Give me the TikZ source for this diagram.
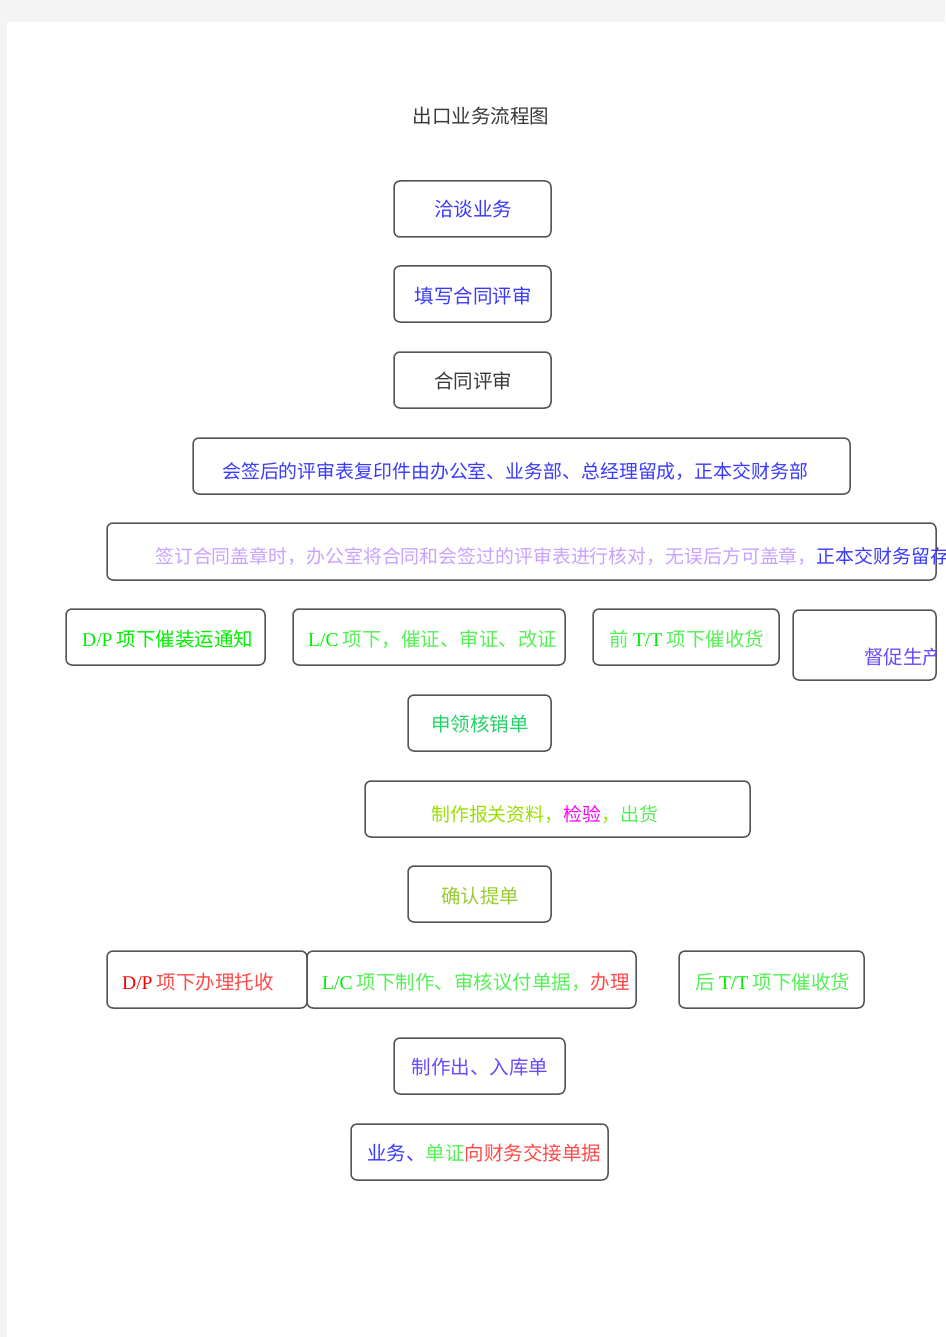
\documentclass[tikz,border=0pt]{standalone}
\usepackage{fontspec}
\setmainfont{Liberation Serif}
\newfontfamily\cjk{Noto Sans CJK SC}
\newcommand\lat[1]{{\rmfamily #1}}
\definecolor{pagegray}{HTML}{F4F4F4}
\definecolor{boxline}{HTML}{555555}
\definecolor{blueT}{HTML}{3A3AFF}
\definecolor{purpT}{HTML}{6A4AFF}
\definecolor{darkT}{HTML}{3A3A3A}
\definecolor{lavT}{HTML}{C9A2FF}
\definecolor{greenT}{HTML}{00F000}
\definecolor{lgreenT}{HTML}{55F055}
\definecolor{tealT}{HTML}{22D466}
\definecolor{ygreenT}{HTML}{99E000}
\definecolor{olivT}{HTML}{99CC33}
\definecolor{magT}{HTML}{FF00FF}
\definecolor{redT}{HTML}{FF0000}
\definecolor{salT}{HTML}{FF4A4A}
\tikzset{
  box/.style={draw=boxline, line width=1.5pt, rounded corners=6pt, fill=white, inner sep=0pt},
  txt/.style={inner sep=0pt, font=\cjk\fontsize{19.5}{20}\selectfont},
  ltxt/.style={txt, anchor=west},
  ntxt/.style={ltxt, font=\cjk\fontsize{18.9}{20}\selectfont}
}
\begin{document}
\begin{tikzpicture}[x=1pt,y=-1pt]
\useasboundingbox (0,0) rectangle (945,1337);
\fill[pagegray] (0,0) rectangle (945,1337);
\fill[white] (7,22) rectangle (945,1337);

\node[txt, text=darkT] (title) at (481,116) {出口业务流程图};

\node[box, minimum width=157pt, minimum height=56pt] (b1) at (472.5,209) {};
\node[txt, text=blueT] (t1) at (473,209) {洽谈业务};

\node[box, minimum width=157pt, minimum height=56pt] (b2) at (472.5,294) {};
\node[txt, text=blueT] (t2) at (473,296) {填写合同评审};

\node[box, minimum width=157pt, minimum height=56pt] (b3) at (472.5,380) {};
\node[txt, text=darkT] (t3) at (473,381) {合同评审};

\node[box, minimum width=657pt, minimum height=56pt] (b4) at (521.5,466) {};
\node[ntxt, text=blueT] (t4) at (222,471) {会签后的评审表复印件由办公室、业务部、总经理留成，正本交财务部};

\node[box, minimum width=829pt, minimum height=57pt] (b5) at (521.5,551.5) {};
\node[ntxt] (t5) at (155,556) {\textcolor{lavT}{签订合同盖章时，办公室将合同和会签过的评审表进行核对，无误后方可盖章，}\textcolor{blueT}{正本交财务留存}};

\node[box, minimum width=199pt, minimum height=56pt] (b6) at (165.5,637) {};
\node[ltxt, text=greenT] (t6) at (82,639) {\lat{D/P} 项下催装运通知};

\node[box, minimum width=272pt, minimum height=56pt] (b7) at (429,637) {};
\node[ltxt, text=lgreenT] (t7) at (308,639) {\textcolor{greenT}{\lat{L/C}} 项下，催证、审证、改证};

\node[box, minimum width=186pt, minimum height=56pt] (b8) at (686,637) {};
\node[ltxt, text=lgreenT] (t8) at (609,639) {前 \textcolor{greenT}{\lat{T/T}} 项下催收货};

\node[box, minimum width=143pt, minimum height=70pt] (b9) at (864.5,645) {};
\begin{scope}
\clip (793,605) rectangle (936,685);
\node[ltxt, text=purpT] (t9) at (864,657) {督促生产};
\end{scope}

\node[box, minimum width=143pt, minimum height=56pt] (b10) at (479.5,723) {};
\node[txt, text=tealT] (t10) at (480,724) {申领核销单};

\node[box, minimum width=385pt, minimum height=56pt] (b11) at (557.5,809) {};
\node[ntxt] (t11) at (431,814) {\textcolor{ygreenT}{制作报关资料，}\textcolor{magT}{检验}\textcolor{ygreenT}{，}\textcolor{lgreenT}{出货}};

\node[box, minimum width=143pt, minimum height=56pt] (b12) at (479.5,894) {};
\node[txt, text=olivT] (t12) at (480,896) {确认提单};

\node[box, minimum width=200pt, minimum height=57pt] (b13) at (207,979.5) {};
\node[ltxt, text=salT] (t13) at (122,982) {\textcolor{redT}{\lat{D/P}} 项下办理托收};

\node[box, minimum width=329pt, minimum height=57pt] (b14) at (471.5,979.5) {};
\node[ltxt, text=lgreenT] (t14) at (322,982) {\textcolor{greenT}{\lat{L/C}} 项下制作、审核议付单据，\textcolor{salT}{办理}};

\node[box, minimum width=185pt, minimum height=57pt] (b15) at (771.5,979.5) {};
\node[ltxt, text=lgreenT] (t15) at (695,982) {后 \textcolor{greenT}{\lat{T/T}} 项下催收货};

\node[box, minimum width=171pt, minimum height=56pt] (b16) at (479.5,1066) {};
\node[txt, text=purpT] (t16) at (480,1067) {制作出、入库单};

\node[box, minimum width=257pt, minimum height=56pt] (b17) at (479.5,1152) {};
\node[ltxt] (t17) at (367,1153) {\textcolor{blueT}{业务、}\textcolor{lgreenT}{单证}\textcolor{salT}{向财务交接单据}};
\end{tikzpicture}
\end{document}
